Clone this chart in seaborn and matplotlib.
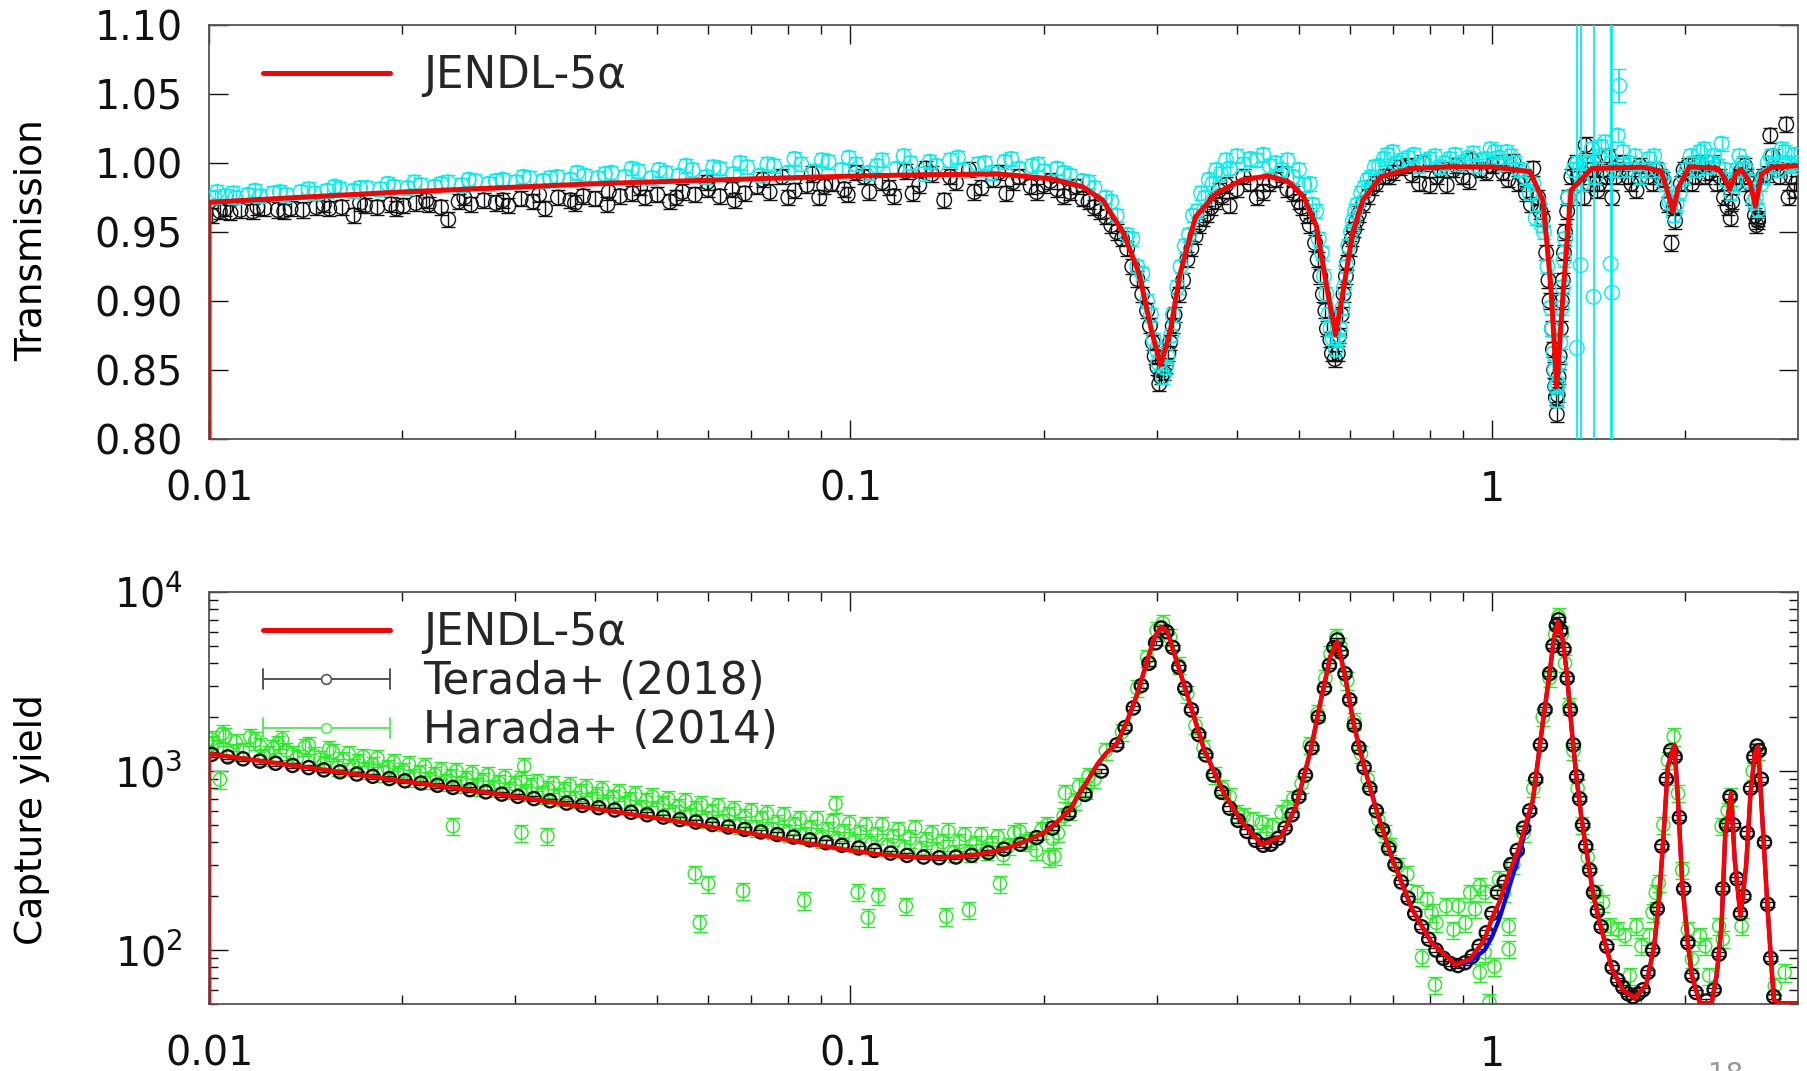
import numpy as np
import pandas as pd
import matplotlib
matplotlib.use("Agg")
import matplotlib.pyplot as plt
import seaborn as sns
from matplotlib.lines import Line2D
from matplotlib.legend_handler import HandlerBase
from matplotlib.ticker import FixedLocator, NullFormatter, FuncFormatter, LogLocator

# ---------------------------------------------------------------- data
# Top panel: transmission
JENDL_T = [(0.01, 0.0), (0.01, 0.9715), (0.015, 0.976), (0.02, 0.979), (0.03, 0.9825), (0.04, 0.985),
           (0.055, 0.987), (0.07, 0.9885), (0.1, 0.9905), (0.13, 0.9915), (0.171, 0.992), (0.206, 0.9885),
           (0.230, 0.9828), (0.2475, 0.973), (0.2666, 0.949), (0.2818, 0.920), (0.2951, 0.877),
           (0.3046, 0.8536), (0.3148, 0.877), (0.3266, 0.920), (0.3451, 0.961), (0.3717, 0.978),
           (0.4076, 0.9877), (0.4471, 0.9906), (0.4813, 0.9865), (0.5087, 0.9756), (0.5328, 0.954),
           (0.5528, 0.910), (0.5705, 0.8754), (0.5875, 0.910), (0.6064, 0.949), (0.629, 0.973),
           (0.6711, 0.990), (0.7498, 0.9961), (0.8693, 0.9973), (1.0076, 0.9971), (1.1467, 0.9937),
           (1.2007, 0.973), (1.2345, 0.913), (1.262, 0.838), (1.293, 0.910), (1.329, 0.9804),
           (1.431, 0.996), (1.722, 0.997), (1.837, 0.994), (1.888, 0.9756), (1.916, 0.9647),
           (1.951, 0.982), (2.032, 0.9973), (2.250, 0.996), (2.30, 0.990), (2.348, 0.981),
           (2.40, 0.992), (2.445, 0.9955), (2.527, 0.9858), (2.575, 0.9686), (2.633, 0.992),
           (2.732, 0.997), (3.0, 0.998)]

TERADA_T = [(0.0101, 0.962), (0.0104, 0.965), (0.0108, 0.964), (0.0112, 0.966), (0.0117, 0.965),
            (0.0122, 0.967), (0.0128, 0.966), (0.0134, 0.967), (0.014, 0.966), (0.0147, 0.968),
            (0.0154, 0.967), (0.0161, 0.968), (0.0168, 0.962), (0.0175, 0.969), (0.0183, 0.968),
            (0.0192, 0.970), (0.0201, 0.969), (0.021, 0.971), (0.022, 0.970), (0.023, 0.968),
            (0.0236, 0.959), (0.0245, 0.972), (0.0256, 0.970), (0.0268, 0.973), (0.028, 0.971),
            (0.0293, 0.969), (0.0306, 0.974), (0.032, 0.972), (0.0334, 0.967), (0.035, 0.975),
            (0.0366, 0.973), (0.0383, 0.976), (0.04, 0.974), (0.0418, 0.970), (0.0437, 0.976),
            (0.0457, 0.978), (0.0478, 0.975), (0.05, 0.977), (0.0523, 0.972), (0.0547, 0.979),
            (0.0572, 0.977), (0.0598, 0.986), (0.0625, 0.976), (0.0654, 0.981), (0.0684, 0.978),
            (0.0715, 0.983), (0.0748, 0.979), (0.0782, 0.990), (0.0818, 0.980), (0.0855, 0.984),
            (0.0894, 0.975), (0.0935, 0.985), (0.0978, 0.981), (0.102, 0.993), (0.107, 0.979),
            (0.112, 0.986), (0.117, 0.976), (0.122, 0.994), (0.128, 0.984), (0.134, 0.992),
            (0.14, 0.973), (0.146, 0.986), (0.153, 0.995), (0.16, 0.982), (0.167, 0.988),
            (0.175, 0.978), (0.183, 0.990), (0.191, 0.983), (0.2, 0.984), (0.21, 0.981),
            (0.22, 0.979), (0.23, 0.974), (0.24, 0.968), (0.25, 0.961), (0.26, 0.950),
            (0.27, 0.938), (0.28, 0.916), (0.29, 0.893), (0.296, 0.870), (0.301, 0.852),
            (0.305, 0.845), (0.31, 0.853), (0.315, 0.870), (0.32, 0.890), (0.33, 0.915),
            (0.34, 0.938), (0.35, 0.955), (0.36, 0.963), (0.37, 0.972), (0.38, 0.976),
            (0.39, 0.969), (0.40, 0.981), (0.42, 0.985), (0.44, 0.979), (0.46, 0.988),
            (0.48, 0.981), (0.50, 0.972), (0.515, 0.962), (0.53, 0.942), (0.54, 0.918),
            (0.55, 0.893), (0.56, 0.872), (0.569, 0.858), (0.575, 0.862), (0.583, 0.890),
            (0.592, 0.918), (0.60, 0.938), (0.61, 0.952), (0.62, 0.963), (0.64, 0.976),
            (0.66, 0.985), (0.68, 0.990), (0.70, 0.993), (0.72, 0.997), (0.75, 0.992),
            (0.78, 1.000), (0.80, 0.984), (0.83, 0.995), (0.85, 0.984), (0.88, 0.998),
            (0.90, 0.990), (0.93, 1.002), (0.96, 0.995), (1.0, 0.998), (1.04, 0.993),
            (1.08, 1.001), (1.10, 0.985), (1.13, 0.978), (1.16, 0.996), (1.18, 0.975),
            (1.20, 0.960), (1.215, 0.935), (1.23, 0.900), (1.245, 0.865), (1.255, 0.838),
            (1.262, 0.818), (1.27, 0.845), (1.28, 0.880), (1.29, 0.915), (1.30, 0.950),
            (1.315, 0.975), (1.33, 0.990), (1.35, 1.000), (1.37, 0.990), (1.40, 1.013),
            (1.42, 0.985), (1.44, 1.000), (1.46, 0.980), (1.49, 0.995), (1.52, 1.005),
            (1.56, 0.990), (1.60, 1.000), (1.65, 0.985), (1.70, 0.998), (1.75, 0.990),
            (1.80, 0.995), (1.85, 0.988), (1.88, 0.970), (1.905, 0.942), (1.93, 0.958),
            (1.97, 0.985), (2.02, 0.998), (2.07, 0.990), (2.12, 1.000), (2.18, 0.993),
            (2.24, 0.985), (2.30, 0.975), (2.356, 0.960), (2.40, 0.985), (2.45, 0.995),
            (2.50, 0.990), (2.54, 0.975), (2.584, 0.955), (2.60, 0.960), (2.65, 0.990),
            (2.716, 1.020), (2.78, 0.995), (2.876, 1.028), (2.90, 0.975), (2.96, 0.980),
            # second pass over the dense cloud
            (0.0106, 0.967), (0.0119, 0.968), (0.0131, 0.965), (0.0151, 0.970), (0.0172, 0.971),
            (0.0196, 0.967), (0.0218, 0.973), (0.025, 0.975), (0.0287, 0.973), (0.0327, 0.977),
            (0.0372, 0.971), (0.042, 0.979), (0.047, 0.982), (0.0535, 0.975), (0.06, 0.981),
            (0.066, 0.973), (0.073, 0.988), (0.08, 0.975), (0.087, 0.992), (0.091, 0.983),
            (0.099, 0.977), (0.105, 0.990), (0.115, 0.982), (0.125, 0.978), (0.131, 0.996),
            (0.143, 0.990), (0.156, 0.979), (0.17, 0.993), (0.179, 0.986), (0.195, 0.979),
            (0.205, 0.987), (0.215, 0.976), (0.225, 0.983), (0.235, 0.972), (0.245, 0.965),
            (0.255, 0.955), (0.265, 0.945), (0.275, 0.925), (0.285, 0.905), (0.293, 0.882),
            (0.298, 0.860), (0.303, 0.840), (0.308, 0.848), (0.313, 0.862), (0.318, 0.882),
            (0.325, 0.905), (0.335, 0.930), (0.345, 0.947), (0.355, 0.960), (0.365, 0.968),
            (0.375, 0.980), (0.385, 0.984), (0.41, 0.990), (0.43, 0.975), (0.45, 0.985),
            (0.47, 0.992), (0.49, 0.978), (0.505, 0.968), (0.52, 0.955), (0.535, 0.930),
            (0.545, 0.905), (0.553, 0.880), (0.563, 0.862), (0.578, 0.875), (0.587, 0.905),
            (0.595, 0.928), (0.605, 0.945), (0.615, 0.958), (0.63, 0.970), (0.65, 0.982),
            (0.69, 0.990), (0.74, 0.998), (0.77, 0.985), (0.82, 0.990), (0.87, 0.995),
            (0.92, 0.987), (0.98, 0.993), (1.02, 1.000), (1.06, 0.988), (1.12, 0.990),
            (1.15, 0.970), (1.19, 0.965), (1.225, 0.915), (1.24, 0.880), (1.25, 0.850),
            (1.258, 0.830), (1.266, 0.832), (1.275, 0.860), (1.285, 0.900), (1.295, 0.935),
            (1.31, 0.965), (1.36, 0.990), (1.39, 0.975), (1.43, 0.995), (1.47, 0.985),
            (1.51, 0.990), (1.54, 0.975), (1.58, 0.995), (1.63, 0.990), (1.68, 0.980),
            (1.73, 0.995), (1.78, 0.985), (1.83, 0.990), (1.92, 0.968), (1.99, 0.995),
            (2.05, 0.985), (2.10, 0.998), (2.15, 0.990), (2.21, 1.000), (2.27, 0.990),
            (2.33, 0.968), (2.37, 0.972), (2.43, 0.990), (2.48, 0.998), (2.52, 0.985),
            (2.57, 0.962), (2.60, 0.958), (2.68, 0.992), (2.74, 1.005), (2.81, 0.990),
            (2.93, 0.990), (2.98, 0.985)]

HARADA_T = [(0.0102, 0.975), (0.0106, 0.976), (0.011, 0.975), (0.0115, 0.977), (0.012, 0.976),
            (0.0126, 0.978), (0.0132, 0.977), (0.0139, 0.979), (0.0146, 0.978), (0.0153, 0.980),
            (0.016, 0.981), (0.0168, 0.980), (0.0176, 0.982), (0.0185, 0.981), (0.0194, 0.983),
            (0.0204, 0.982), (0.0214, 0.984), (0.0225, 0.983), (0.0236, 0.986), (0.0248, 0.984),
            (0.026, 0.987), (0.0273, 0.985), (0.0287, 0.988), (0.0301, 0.986), (0.0316, 0.989),
            (0.0332, 0.987), (0.0349, 0.990), (0.0366, 0.988), (0.0385, 0.991), (0.0404, 0.989),
            (0.0424, 0.993), (0.0445, 0.990), (0.0467, 0.994), (0.049, 0.989), (0.0515, 0.993),
            (0.054, 0.991), (0.0567, 0.995), (0.0596, 0.990), (0.0625, 0.996), (0.0657, 0.992),
            (0.069, 0.997), (0.0724, 0.991), (0.076, 0.998), (0.0798, 0.993), (0.0838, 0.999),
            (0.088, 0.994), (0.0924, 1.001), (0.097, 0.995), (0.102, 0.999), (0.107, 0.993),
            (0.112, 1.002), (0.118, 0.996), (0.124, 1.000), (0.13, 0.992), (0.136, 0.998),
            (0.143, 1.002), (0.15, 0.995), (0.158, 0.999), (0.166, 0.993), (0.174, 1.001),
            (0.183, 0.996), (0.192, 0.998), (0.2, 0.994), (0.21, 0.996), (0.22, 0.991),
            (0.23, 0.987), (0.24, 0.982), (0.25, 0.975), (0.26, 0.962), (0.27, 0.948),
            (0.28, 0.925), (0.29, 0.900), (0.297, 0.872), (0.302, 0.855), (0.307, 0.845),
            (0.312, 0.860), (0.318, 0.890), (0.327, 0.925), (0.337, 0.948), (0.347, 0.965),
            (0.357, 0.975), (0.367, 0.985), (0.378, 0.992), (0.39, 0.996), (0.41, 0.999),
            (0.43, 1.002), (0.45, 0.998), (0.47, 0.995), (0.49, 0.990), (0.51, 0.984),
            (0.525, 0.970), (0.537, 0.945), (0.547, 0.918), (0.556, 0.890), (0.564, 0.873),
            (0.571, 0.865), (0.579, 0.880), (0.588, 0.910), (0.597, 0.940), (0.607, 0.958),
            (0.617, 0.970), (0.632, 0.982), (0.647, 0.990), (0.667, 0.998), (0.687, 1.006),
            (0.71, 1.000), (0.74, 1.004), (0.77, 0.998), (0.80, 1.003), (0.83, 0.997),
            (0.86, 1.003), (0.89, 0.999), (0.92, 1.004), (0.95, 0.998), (0.98, 1.003),
            (1.01, 1.008), (1.04, 0.999), (1.07, 1.005), (1.10, 0.995), (1.13, 0.990),
            (1.16, 0.985), (1.185, 0.970), (1.205, 0.950), (1.22, 0.925), (1.235, 0.895),
            (1.248, 0.862), (1.258, 0.838), (1.268, 0.840), (1.278, 0.870), (1.29, 0.910),
            (1.30, 0.945), (1.315, 0.975), (1.34, 0.995), (1.40, 1.000), (1.43, 1.010),
            (1.47, 1.005), (1.50, 1.015), (1.55, 0.995), (1.60, 1.008), (1.64, 1.000),
            (1.70, 0.990), (1.76, 1.003), (1.82, 0.995), (1.86, 0.985), (1.89, 0.972),
            (1.92, 0.962), (1.96, 0.978), (2.01, 0.995), (2.06, 1.000), (2.11, 1.008),
            (2.16, 0.997), (2.22, 1.005), (2.28, 1.014), (2.32, 0.988), (2.36, 0.978),
            (2.41, 0.995), (2.46, 1.000), (2.52, 0.987), (2.56, 0.972), (2.60, 0.966),
            (2.66, 0.990), (2.72, 1.005), (2.80, 0.995), (2.86, 1.008), (2.93, 0.998),
            (2.99, 1.000),
            # second pass over the dense cloud
            (0.0103, 0.979), (0.0109, 0.978), (0.0118, 0.980), (0.0129, 0.979), (0.0143, 0.981),
            (0.0157, 0.983), (0.0172, 0.982), (0.019, 0.985), (0.0209, 0.986), (0.023, 0.985),
            (0.0254, 0.988), (0.028, 0.987), (0.0309, 0.990), (0.034, 0.989), (0.0375, 0.993),
            (0.0414, 0.992), (0.0456, 0.996), (0.0503, 0.995), (0.0554, 0.998), (0.0611, 0.997),
            (0.0673, 1.000), (0.0742, 0.999), (0.0818, 1.003), (0.0902, 1.002), (0.0994, 1.004),
            (0.110, 0.998), (0.121, 1.005), (0.133, 1.001), (0.147, 1.004), (0.162, 1.000),
            (0.178, 1.003), (0.196, 0.999), (0.215, 0.993), (0.235, 0.986), (0.255, 0.972),
            (0.275, 0.945), (0.285, 0.920), (0.294, 0.890), (0.300, 0.865), (0.310, 0.852),
            (0.316, 0.875), (0.323, 0.910), (0.332, 0.940), (0.342, 0.962), (0.352, 0.978),
            (0.362, 0.988), (0.372, 0.995), (0.385, 1.002), (0.40, 1.005), (0.42, 1.003),
            (0.44, 1.006), (0.46, 1.000), (0.48, 1.002), (0.50, 0.995), (0.52, 0.985),
            (0.532, 0.965), (0.543, 0.935), (0.552, 0.905), (0.56, 0.880), (0.576, 0.872),
            (0.585, 0.895), (0.593, 0.925), (0.603, 0.950), (0.612, 0.965), (0.625, 0.978),
            (0.64, 0.988), (0.657, 0.997), (0.678, 1.003), (0.70, 1.008), (0.725, 1.002),
            (0.755, 1.006), (0.785, 1.001), (0.815, 1.005), (0.845, 1.000), (0.875, 1.006),
            (0.905, 1.001), (0.935, 1.007), (0.965, 1.002), (0.995, 1.010), (1.025, 1.004),
            (1.055, 1.008), (1.085, 1.000), (1.115, 0.995), (1.145, 0.978), (1.17, 0.960),
            (1.195, 0.955), (1.24, 0.880), (1.253, 0.850), (1.263, 0.828), (1.273, 0.855),
            (1.284, 0.895), (1.295, 0.930), (1.36, 1.000), (1.38, 0.985), (1.42, 1.000),
            (1.45, 0.990), (1.48, 1.012), (1.53, 1.000), (1.57, 1.020), (1.62, 0.995),
            (1.67, 1.005), (1.73, 0.995), (1.79, 1.005), (1.84, 0.990), (1.90, 0.975),
            (1.94, 0.970), (1.99, 0.990), (2.04, 1.005), (2.09, 0.995), (2.14, 1.010),
            (2.20, 1.000), (2.25, 0.998), (2.31, 0.995), (2.38, 0.985), (2.43, 1.005),
            (2.49, 0.995), (2.58, 0.975), (2.63, 0.985), (2.69, 1.000), (2.75, 0.998),
            (2.83, 1.010), (2.90, 1.000), (2.96, 1.006)]

# Harada transmission points with very large uncertainties: (E, T, error)
HARADA_T_WIDE = [(1.356, 0.866, 0.32), (1.375, 0.926, 0.35), (1.440, 0.903, 0.30),
                 (1.531, 0.927, 0.35), (1.539, 0.906, 0.33), (1.58, 1.056, 0.012)]

# Bottom panel: capture yield
JENDL_Y = [(0.01, 50.0), (0.01, 1250), (0.012, 1140), (0.015, 1020), (0.02, 880), (0.025, 790),
           (0.03, 720), (0.04, 615), (0.05, 545), (0.06, 490), (0.07, 448), (0.08, 412),
           (0.09, 383), (0.1, 360), (0.11, 344), (0.12, 334), (0.13, 329), (0.14, 329),
           (0.15, 334), (0.16, 344), (0.17, 360), (0.18, 383), (0.19, 414), (0.2, 452),
           (0.21, 520), (0.22, 610), (0.226, 723), (0.235, 900), (0.243, 1100), (0.25, 1250),
           (0.26, 1420), (0.27, 1900), (0.28, 2700), (0.29, 4100), (0.298, 5600), (0.305, 6400),
           (0.312, 6000), (0.321, 4340), (0.338, 2400), (0.356, 1314), (0.382, 753), (0.409, 512),
           (0.438, 388), (0.47, 432), (0.495, 635), (0.522, 1316), (0.54, 2400), (0.56, 4370),
           (0.574, 5300), (0.589, 3520), (0.61, 1775), (0.632, 1061), (0.665, 558), (0.70, 320),
           (0.751, 169), (0.805, 110), (0.878, 83), (0.925, 89), (0.974, 115), (1.0, 150),
           (1.026, 184), (1.06, 260), (1.10, 365), (1.158, 690), (1.2, 1850), (1.23, 3530),
           (1.25, 5600), (1.268, 6840), (1.29, 5370), (1.31, 3380), (1.33, 1780), (1.354, 930),
           (1.378, 558), (1.40, 380), (1.44, 200), (1.477, 136), (1.54, 78), (1.60, 60),
           (1.67, 54), (1.74, 64), (1.79, 105), (1.82, 184), (1.85, 414), (1.88, 1061),
           (1.925, 1400), (1.95, 690), (1.98, 237), (2.02, 110), (2.05, 72), (2.11, 50.5),
           (2.20, 50.5), (2.24, 72), (2.28, 136), (2.31, 441), (2.36, 753), (2.39, 320),
           (2.44, 155), (2.49, 294), (2.53, 753), (2.57, 1260), (2.60, 1370), (2.64, 535),
           (2.69, 169), (2.75, 53), (2.80, 50.5), (3.0, 50.5)]

BLUE_Y = [(0.2, 452), (0.21, 520), (0.22, 610), (0.226, 723), (0.235, 900), (0.243, 1100),
          (0.25, 1250), (0.26, 1420), (0.27, 1900), (0.28, 2700), (0.29, 4100), (0.298, 5600),
          (0.305, 6400), (0.312, 6000), (0.321, 4340), (0.338, 2400), (0.356, 1314),
          (0.382, 753), (0.409, 512), (0.438, 388), (0.47, 432), (0.495, 635), (0.522, 1316),
          (0.54, 2400), (0.56, 4370), (0.574, 5300), (0.589, 3520), (0.61, 1775),
          (0.632, 1061), (0.665, 558), (0.70, 320), (0.751, 169), (0.805, 110), (0.878, 83),
          (0.925, 86), (0.974, 100), (1.0, 118), (1.026, 148), (1.06, 215), (1.10, 330),
          (1.158, 680), (1.2, 1850), (1.23, 3530), (1.25, 5600), (1.268, 6840), (1.29, 5370),
          (1.31, 3380), (1.33, 1780), (1.354, 930), (1.378, 558), (1.40, 380), (1.44, 200),
          (1.477, 136), (1.54, 78), (1.60, 60), (1.67, 54), (1.74, 64), (1.79, 105),
          (1.82, 184), (1.85, 414), (1.88, 1061), (1.925, 1400), (1.95, 690), (1.98, 237),
          (2.02, 110), (2.05, 72), (2.11, 50.5), (2.20, 50.5), (2.24, 72), (2.28, 136),
          (2.31, 441), (2.36, 753), (2.39, 320), (2.44, 155), (2.49, 294), (2.53, 753),
          (2.57, 1260), (2.60, 1370), (2.64, 535), (2.69, 169), (2.75, 53)]

TERADA_Y = [(0.0101, 1240), (0.0107, 1200), (0.0113, 1170), (0.012, 1135), (0.0127, 1105),
            (0.0135, 1075), (0.0143, 1045), (0.0151, 1015), (0.016, 990), (0.017, 962),
            (0.018, 935), (0.0191, 908), (0.0202, 882), (0.0214, 857), (0.0227, 833),
            (0.024, 810), (0.0255, 787), (0.027, 765), (0.0286, 743), (0.0303, 722),
            (0.0321, 702), (0.034, 682), (0.0361, 662), (0.0382, 643), (0.0405, 624),
            (0.0429, 606), (0.0455, 588), (0.0482, 570), (0.0511, 553), (0.0542, 536),
            (0.0574, 519), (0.0609, 503), (0.0645, 487), (0.0684, 472), (0.0725, 457),
            (0.0769, 442), (0.0815, 428), (0.0864, 413), (0.0916, 398), (0.097, 385),
            (0.103, 372), (0.109, 360), (0.1155, 348), (0.1225, 338), (0.13, 331),
            (0.1375, 328), (0.146, 331), (0.1545, 338), (0.164, 350), (0.1735, 366),
            (0.184, 390), (0.195, 425), (0.2065, 480), (0.219, 580), (0.232, 740),
            (0.246, 1000), (0.26, 1400), (0.268, 1750), (0.276, 2250), (0.284, 3000),
            (0.292, 4000), (0.299, 5200), (0.305, 6300), (0.311, 6000), (0.318, 4900),
            (0.325, 3800), (0.332, 2900), (0.34, 2200), (0.349, 1600), (0.358, 1230),
            (0.368, 950), (0.379, 760), (0.39, 620), (0.402, 530), (0.415, 460),
            (0.428, 410), (0.44, 385), (0.452, 390), (0.464, 420), (0.476, 480),
            (0.488, 570), (0.5, 720), (0.512, 950), (0.524, 1350), (0.536, 2000),
            (0.548, 2900), (0.558, 3900), (0.567, 4900), (0.574, 5400), (0.582, 4600),
            (0.59, 3500), (0.6, 2500), (0.61, 1800), (0.62, 1350), (0.632, 1050),
            (0.645, 800), (0.66, 600), (0.675, 470), (0.69, 370), (0.706, 300),
            (0.722, 240), (0.74, 195), (0.758, 160), (0.777, 135), (0.797, 115),
            (0.818, 100), (0.84, 90), (0.862, 84), (0.885, 82), (0.908, 85), (0.931, 92),
            (0.955, 105), (0.98, 125), (1.0, 160), (1.02, 210), (1.045, 240), (1.07, 300),
            (1.095, 360), (1.12, 480), (1.145, 600), (1.17, 900), (1.19, 1400), (1.21, 2200),
            (1.23, 3500), (1.245, 5000), (1.26, 6500), (1.27, 7000), (1.28, 6100),
            (1.295, 4800), (1.31, 3300), (1.325, 2200), (1.34, 1400), (1.355, 930),
            (1.37, 700), (1.385, 500), (1.40, 380), (1.42, 280), (1.44, 210), (1.46, 165),
            (1.48, 135), (1.51, 105), (1.54, 80), (1.57, 68), (1.60, 62), (1.63, 57),
            (1.66, 55), (1.69, 57), (1.72, 60), (1.75, 75), (1.78, 100), (1.81, 170),
            (1.84, 380), (1.87, 900), (1.90, 1300), (1.93, 1200), (1.96, 550), (1.99, 220),
            (2.02, 110), (2.05, 72), (2.08, 58), (2.16, 52), (2.22, 60), (2.26, 95),
            (2.29, 220), (2.32, 500), (2.35, 720), (2.38, 500), (2.41, 250), (2.44, 160),
            (2.47, 200), (2.50, 450), (2.53, 800), (2.56, 1200), (2.59, 1380), (2.61, 1300),
            (2.63, 900), (2.66, 400), (2.69, 180), (2.72, 90), (2.75, 55)]

HARADA_Y = [(0.0101, 1500), (0.0103, 1350), (0.0105, 1620), (0.0104, 896), (0.011, 1450),
            (0.0113, 1300), (0.0116, 1550), (0.012, 1380), (0.0124, 1250), (0.0128, 1420),
            (0.0132, 1300), (0.0137, 1180), (0.0141, 1360), (0.0146, 1220), (0.0151, 1100),
            (0.0156, 1280), (0.0162, 1150), (0.0168, 1050), (0.0174, 1200), (0.018, 1080),
            (0.0187, 980), (0.0194, 1120), (0.0201, 1000), (0.0209, 920), (0.0217, 1060),
            (0.0225, 950), (0.0234, 870), (0.024, 492), (0.0243, 1000), (0.0252, 900),
            (0.0262, 820), (0.0272, 950), (0.0283, 860), (0.0294, 780), (0.0306, 900),
            (0.0307, 452), (0.031, 1062), (0.0318, 820), (0.0331, 740), (0.0337, 433),
            (0.0344, 850), (0.0358, 780), (0.0372, 700), (0.0387, 810), (0.0403, 730),
            (0.0419, 660), (0.0436, 760), (0.0454, 690), (0.0472, 620), (0.0491, 720),
            (0.0511, 650), (0.0532, 580), (0.0553, 680), (0.0572, 267), (0.0582, 142),
            (0.0575, 610), (0.0598, 540), (0.060, 235), (0.0622, 640), (0.0647, 570),
            (0.068, 214), (0.0673, 500), (0.070, 600), (0.0728, 540), (0.0757, 470),
            (0.0787, 570), (0.0819, 500), (0.0847, 189), (0.0852, 440), (0.0886, 540),
            (0.0921, 470), (0.0948, 655), (0.0958, 410), (0.0996, 510), (0.1026, 210),
            (0.1036, 450), (0.1064, 152), (0.1078, 390), (0.1105, 200), (0.1121, 500),
            (0.1166, 430), (0.122, 176), (0.1213, 370), (0.1262, 480), (0.1313, 410),
            (0.1366, 360), (0.141, 154), (0.1421, 460), (0.1478, 400), (0.153, 167),
            (0.1537, 350), (0.1599, 440), (0.1663, 390), (0.171, 235), (0.173, 340),
            (0.180, 450), (0.1872, 400), (0.1947, 360), (0.2025, 500), (0.204, 327),
            (0.2106, 450), (0.208, 334), (0.216, 753), (0.220, 600), (0.227, 820),
            (0.235, 935), (0.240, 900), (0.25, 1300), (0.265, 1650), (0.28, 2900),
            (0.29, 4300), (0.30, 6100), (0.307, 6700), (0.315, 5600), (0.325, 3900),
            (0.335, 2700), (0.345, 1800), (0.355, 1350), (0.37, 950), (0.38, 800),
            (0.39, 720), (0.40, 584), (0.41, 560), (0.424, 535), (0.438, 513), (0.445, 450),
            (0.454, 491), (0.47, 584), (0.48, 620), (0.49, 700), (0.505, 850), (0.52, 1400),
            (0.535, 2100), (0.55, 3300), (0.56, 4500), (0.572, 5600), (0.58, 5000),
            (0.595, 3200), (0.61, 1900), (0.625, 1250), (0.64, 900), (0.665, 535),
            (0.68, 450), (0.694, 380), (0.713, 294), (0.738, 264), (0.764, 209), (0.778, 91),
            (0.791, 191), (0.805, 162), (0.815, 64), (0.819, 142), (0.848, 176), (0.871, 130),
            (0.886, 176), (0.909, 142), (0.925, 209), (0.941, 169), (0.957, 75), (0.957, 228),
            (0.974, 97), (0.974, 209), (0.991, 51), (1.009, 81), (1.026, 248), (1.044, 209),
            (1.062, 101), (1.062, 136), (1.08, 300), (1.12, 450), (1.16, 800), (1.20, 2000),
            (1.23, 3300), (1.255, 5800), (1.27, 7300), (1.285, 5800), (1.30, 4000),
            (1.32, 2300), (1.34, 1300), (1.36, 800), (1.38, 500), (1.41, 330), (1.452, 209),
            (1.49, 184), (1.53, 136), (1.57, 130), (1.61, 120), (1.64, 72), (1.67, 51),
            (1.68, 136), (1.71, 105), (1.76, 120), (1.78, 162), (1.80, 209), (1.82, 237),
            (1.85, 500), (1.88, 1150), (1.92, 1560), (1.95, 750), (1.98, 280), (2.02, 130),
            (2.05, 89), (2.11, 120), (2.15, 105), (2.18, 72), (2.26, 136), (2.29, 115),
            (2.28, 491), (2.33, 600), (2.36, 720), (2.45, 136), (2.55, 1000), (2.60, 1300),
            (2.76, 63), (2.86, 75),
            # more of the dense low-energy band
            (0.01015, 1420), (0.0106, 1560), (0.0109, 1280), (0.0118, 1480), (0.0122, 1200),
            (0.0126, 1340), (0.013, 1500), (0.0135, 1240), (0.0143, 1400), (0.0149, 1160),
            (0.0154, 1330), (0.0159, 1050), (0.0165, 1250), (0.0171, 1120), (0.0177, 1010),
            (0.0183, 1180), (0.019, 1040), (0.0197, 960), (0.0205, 1090), (0.0213, 980),
            (0.0221, 890), (0.023, 1010), (0.0238, 930), (0.0247, 850), (0.0257, 970),
            (0.0267, 880), (0.0278, 800), (0.0289, 920), (0.030, 840), (0.0312, 760),
            (0.0325, 870), (0.0338, 790), (0.0351, 720), (0.0365, 830), (0.038, 760),
            (0.0395, 690), (0.041, 790), (0.0427, 710), (0.0444, 650), (0.0462, 740),
            (0.048, 680), (0.050, 610), (0.052, 700), (0.054, 630), (0.0562, 560),
            (0.0585, 650), (0.0608, 590), (0.0633, 520), (0.0658, 610), (0.0685, 550),
            (0.0712, 480), (0.0741, 580), (0.077, 510), (0.0801, 450), (0.0833, 540),
            (0.0867, 480), (0.0902, 420), (0.0938, 520), (0.0976, 455), (0.1015, 400),
            (0.1056, 500), (0.1098, 440), (0.1142, 380), (0.1188, 470), (0.1236, 420),
            (0.1286, 365), (0.1338, 450), (0.1392, 400), (0.1448, 350), (0.1506, 440),
            (0.1567, 390), (0.163, 360), (0.1696, 430), (0.1764, 380), (0.1835, 460),
            (0.1909, 410), (0.1986, 470), (0.2066, 420), (0.2149, 560), (0.2236, 680),
            (0.2326, 780)]

T_ERR_TERADA = 0.0055
T_ERR_HARADA = 0.005
Y_RELERR_TERADA = 0.03
Y_RELERR_HARADA = 0.11

X_TICKS = [0.01, 0.1, 1]
X_TICK_LABELS = ["0.01", "0.1", "1"]
T_TICKS = [0.80, 0.85, 0.90, 0.95, 1.00, 1.05, 1.10]
Y_TICKS = [1e2, 1e3, 1e4]

LEGEND_JENDL = "JENDL-5\u03b1"
LEGEND_TERADA = "Terada+ (2018)"
LEGEND_HARADA = "Harada+ (2014)"

# ---------------------------------------------------------------- style
sns.set_theme(style="ticks")
plt.rcParams["font.family"] = ["DejaVu Sans"]
TICK_FS = 28.5
LEG_FS = 31.5

RED = "#ff0000"
BLUE = "#0000ff"
CYAN = "#00f0f0"
GREEN = "#22ee22"
BLACK = "#111111"
SPINE = "#555555"

fig = plt.figure(figsize=(18.08, 10.71), dpi=100)
ax1 = fig.add_axes([0.11560, 0.59010, 0.87887, 0.38655])
ax2 = fig.add_axes([0.11560, 0.06256, 0.87887, 0.38469])

def df(pairs, cols=("E", "v")):
    return pd.DataFrame(pairs, columns=list(cols))

d_jt = df(JENDL_T)
d_tt = df(TERADA_T)
d_ht = df(HARADA_T)
d_hw = df(HARADA_T_WIDE, ("E", "v", "err"))
d_jy = df(JENDL_Y)
d_by = df(BLUE_Y)
d_ty = df(TERADA_Y)
d_hy = df(HARADA_Y)

MS_T = 110
MS_Y = 90
CAP = 5.0
# ---- top panel
ax1.errorbar(d_tt.E, d_tt.v, yerr=T_ERR_TERADA, fmt="none", ecolor=BLACK, elinewidth=1.0,
             capsize=CAP, capthick=1.0, zorder=2)
sns.scatterplot(data=d_tt, x="E", y="v", ax=ax1, marker="o", s=MS_T, facecolor="none",
                edgecolor=BLACK, linewidth=1.0, legend=False, zorder=2)
ax1.errorbar(d_hw.E, d_hw.v, yerr=d_hw.err, fmt="none", ecolor=CYAN, elinewidth=1.3,
             capsize=CAP, capthick=1.0, zorder=3)
sns.scatterplot(data=d_hw, x="E", y="v", ax=ax1, marker="o", s=MS_T, facecolor="none",
                edgecolor=CYAN, linewidth=1.0, legend=False, zorder=3)
ax1.errorbar(d_ht.E, d_ht.v, yerr=T_ERR_HARADA, fmt="none", ecolor=CYAN, elinewidth=1.0,
             capsize=CAP, capthick=1.0, zorder=3)
sns.scatterplot(data=d_ht, x="E", y="v", ax=ax1, marker="o", s=MS_T, facecolor="none",
                edgecolor=CYAN, linewidth=1.0, legend=False, zorder=3)
sns.lineplot(data=d_jt, x="E", y="v", ax=ax1, sort=False, estimator=None, color=RED,
             lw=3.6, zorder=5)

# ---- bottom panel
ax2.errorbar(d_hy.E, d_hy.v, yerr=d_hy.v * Y_RELERR_HARADA, fmt="none", ecolor=GREEN,
             elinewidth=1.0, capsize=CAP, capthick=1.0, zorder=2)
sns.scatterplot(data=d_hy, x="E", y="v", ax=ax2, marker="o", s=MS_Y, facecolor="none",
                edgecolor=GREEN, linewidth=1.0, legend=False, zorder=2)
ax2.errorbar(d_ty.E, d_ty.v, yerr=d_ty.v * Y_RELERR_TERADA, fmt="none", ecolor=BLACK,
             elinewidth=1.0, capsize=CAP, capthick=1.0, zorder=3)
sns.scatterplot(data=d_ty, x="E", y="v", ax=ax2, marker="o", s=MS_Y, facecolor="none",
                edgecolor=BLACK, linewidth=1.7, legend=False, zorder=3)
sns.lineplot(data=d_by, x="E", y="v", ax=ax2, sort=False, estimator=None, color=BLUE,
             lw=3.0, zorder=4)
sns.lineplot(data=d_jy, x="E", y="v", ax=ax2, sort=False, estimator=None, color=RED,
             lw=3.2, zorder=5)

# ---- axes formatting
minor_x = [m * 10.0 ** k for k in (-2, -1, 0) for m in range(2, 10) if m * 10.0 ** k < 3.0]
def xfmt(v, p):
    k = int(np.argmin([abs(np.log10(t) - np.log10(v)) for t in X_TICKS]))
    return X_TICK_LABELS[k]

for ax in (ax1, ax2):
    ax.set_xscale("log")
    ax.set_xlim(0.01, 3.0)
    ax.xaxis.set_major_locator(FixedLocator(X_TICKS))
    ax.xaxis.set_major_formatter(FuncFormatter(xfmt))
    ax.xaxis.set_minor_locator(FixedLocator(minor_x))
    ax.xaxis.set_minor_formatter(NullFormatter())
    ax.set_xlabel("")
    ax.set_ylabel("")
    for s in ax.spines.values():
        s.set_color(SPINE)
        s.set_linewidth(1.3)
        s.set_visible(True)
    ax.tick_params(which="both", direction="in", top=True, right=True, colors=BLACK,
                   width=1.0, labelsize=TICK_FS)
    ax.tick_params(which="major", length=13.5)
    ax.tick_params(which="minor", length=6.5)
    ax.tick_params(axis="x", which="major", pad=22)
    ax.tick_params(axis="y", which="major", pad=19)
    ax.grid(False)

ax1.set_ylim(0.80, 1.10)
ax1.yaxis.set_major_locator(FixedLocator(T_TICKS))
ax1.yaxis.set_major_formatter(FuncFormatter(lambda v, p: f"{v:.2f}"))
ax1.yaxis.set_minor_locator(FixedLocator([]))

ax2.set_yscale("log")
ax2.set_ylim(50, 1e4)
ax2.yaxis.set_major_locator(FixedLocator(Y_TICKS))
ax2.yaxis.set_major_formatter(FuncFormatter(lambda v, p: r"$\mathregular{10^{%d}}$" % round(np.log10(v))))
ax2.yaxis.set_minor_locator(LogLocator(base=10, subs=np.arange(2, 10)))
ax2.yaxis.set_minor_formatter(NullFormatter())

fig.text(32 / 1808, 1 - 240 / 1071, "Transmission", rotation=90, ha="center", va="center",
         fontsize=27, color="black")
fig.text(32 / 1808, 1 - 820 / 1071, "Capture yield", rotation=90, ha="center", va="center",
         fontsize=27, color="black")

# ---- legends
class HErr(HandlerBase):
    def create_artists(self, legend, orig_handle, xdescent, ydescent, width, height,
                       fontsize, trans):
        c = orig_handle.get_color()
        y = height / 2 - ydescent
        x0 = -xdescent
        x1 = -xdescent + width
        h = height * 0.33
        arts = [Line2D([x0, x1], [y, y], color=c, lw=1.4),
                Line2D([x0, x0], [y - h, y + h], color=c, lw=1.4),
                Line2D([x1, x1], [y - h, y + h], color=c, lw=1.4),
                Line2D([(x0 + x1) / 2], [y], marker="o", ms=7, mfc="white", mec=c, mew=1.2)]
        for a in arts:
            a.set_transform(trans)
        return arts

h_red = Line2D([], [], color=RED, lw=3.6)
h_ter = Line2D([], [], color="#555555")
h_har = Line2D([], [], color="#55ee55")

leg_kw = dict(frameon=False, fontsize=LEG_FS, handlelength=2.9, handletextpad=0.75,
              borderpad=0, borderaxespad=0, labelspacing=0.14, loc="center left")
ax1.legend([h_red], [LEGEND_JENDL], bbox_to_anchor=(0.034, 0.877), **leg_kw)
ax2.legend([h_red, h_ter, h_har], [LEGEND_JENDL, LEGEND_TERADA, LEGEND_HARADA],
           handler_map={h_ter: HErr(), h_har: HErr()},
           bbox_to_anchor=(0.034, 0.782), **leg_kw)

fig.text(1726 / 1808, -0.004, "18", ha="center", va="center", fontsize=20, color="#999999")

fig.savefig("out.png", dpi=100)
